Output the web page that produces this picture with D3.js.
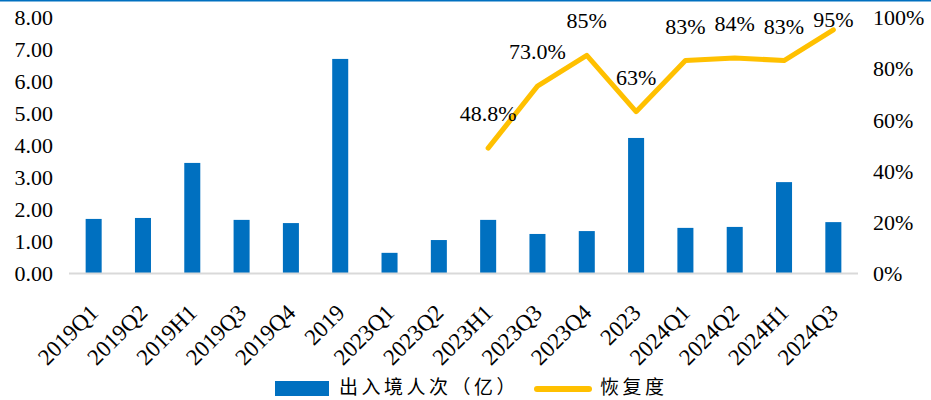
<!DOCTYPE html>
<html><head><meta charset="utf-8">
<script src="https://cdn.jsdelivr.net/npm/d3@7"></script>
<style>
body{margin:0;background:#fff;}
svg{display:block;}
</style></head>
<body>
<svg id="c" width="931" height="400"></svg>
<script>
const categories = ["2019Q1","2019Q2","2019H1","2019Q3","2019Q4","2019","2023Q1","2023Q2","2023H1","2023Q3","2023Q4","2023","2024Q1","2024Q2","2024H1","2024Q3"];
const travellers = [1.69,1.72,3.44,1.66,1.56,6.69,0.63,1.03,1.66,1.22,1.31,4.22,1.41,1.44,2.84,1.59];
const recoveryCats = ["2023H1","2023Q3","2023Q4","2023","2024Q1","2024Q2","2024H1","2024Q3"];
const recovery = [48.8,73.0,85,63,83,84,83,95];
const recoveryLabels = ["48.8%","73.0%","85%","63%","83%","84%","83%","95%"];
const leftTicks = [0,1,2,3,4,5,6,7,8];
const rightTicks = [0,20,40,60,80,100];
const seriesNames = ["出入境人次（亿）","恢复度"];

const SERIF = "'Liberation Serif','Times New Roman',serif";
const CJK = "'Noto Sans CJK SC',sans-serif";

const svg = d3.select("#c");
const m = {l:69, r:858, t:17, b:273};
const x = d3.scaleBand().domain(categories).range([m.l, m.r]).paddingInner(0.675).paddingOuter(0.3375);
const y = d3.scaleLinear().domain([0,8]).range([m.b, m.t]);
const y2 = d3.scaleLinear().domain([0,100]).range([m.b, m.t]);

// top border line
svg.append("rect").attr("x",0).attr("y",0).attr("width",931).attr("height",1.5).attr("fill","#0070C0");

// bars
svg.append("g").selectAll("rect").data(travellers).join("rect")
  .attr("x",(d,i)=>x(categories[i]))
  .attr("y",d=>y(d))
  .attr("width",x.bandwidth())
  .attr("height",d=>y(0)-y(d))
  .attr("fill","#0070C0");

// x axis line
svg.append("line").attr("x1",m.l).attr("x2",m.r).attr("y1",y(0)+0.5).attr("y2",y(0)+0.5)
  .attr("stroke","#d9d9d9").attr("stroke-width",2);

// left axis
const la = d3.axisLeft(y).tickValues(leftTicks).tickFormat(d3.format(".2f")).tickSize(0).tickPadding(0);
const gl = svg.append("g").attr("transform","translate(53,0)").call(la);
gl.attr("font-family",SERIF).attr("font-size",22);
gl.select(".domain").remove();
gl.selectAll("text").style("font-family",SERIF).attr("font-size",22).attr("fill","#000").attr("dy","0.35em");

// right axis
const ra = d3.axisRight(y2).tickValues(rightTicks).tickFormat(d=>d+"%").tickSize(0).tickPadding(0);
const gr = svg.append("g").attr("transform","translate(873,0)").call(ra);
gr.attr("font-family",SERIF).attr("font-size",22);
gr.select(".domain").remove();
gr.selectAll("text").style("font-family",SERIF).attr("font-size",22).attr("fill","#000").attr("dy","0.35em");

// x labels
const bx = d3.axisBottom(x).tickSize(0).tickPadding(0);
const gx = svg.append("g").attr("transform",`translate(0,${y(0)})`).call(bx);
gx.attr("font-family",SERIF).attr("font-size",23);
gx.select(".domain").remove();
gx.selectAll("text")
  .style("font-family",SERIF).attr("font-size",23).attr("fill","#000")
  .attr("text-anchor","end").attr("dy","0").attr("y",0).attr("x",0)
  .attr("transform","translate(6,41) rotate(-45)");

// line
const cx = c => x(c)+x.bandwidth()/2;
const line = d3.line().x((d,i)=>cx(recoveryCats[i])).y(d=>y2(d));
svg.append("path").datum(recovery).attr("d",line)
  .attr("fill","none").attr("stroke","#FFC000").attr("stroke-width",5)
  .attr("stroke-linecap","round").attr("stroke-linejoin","round");

// line labels
svg.append("g").selectAll("text").data(recovery).join("text")
  .attr("x",(d,i)=>cx(recoveryCats[i]))
  .attr("y",d=>Math.max(y2(d)-27, 27))
  .attr("text-anchor","middle").attr("font-size",22)
  .style("font-family",SERIF).attr("fill","#000")
  .text((d,i)=>recoveryLabels[i]);

// legend
const lg = svg.append("g");
lg.append("rect").attr("x",275).attr("y",381).attr("width",54).attr("height",15).attr("fill","#0070C0");
lg.append("text").attr("x",339).attr("y",394).attr("font-size",19)
  .style("font-family",CJK).attr("fill","#000").attr("letter-spacing",3.5).text(seriesNames[0]);
lg.append("line").attr("x1",537).attr("x2",589).attr("y1",389).attr("y2",389)
  .attr("stroke","#FFC000").attr("stroke-width",6).attr("stroke-linecap","round");
lg.append("text").attr("x",600).attr("y",394).attr("font-size",19)
  .style("font-family",CJK).attr("fill","#000").attr("letter-spacing",3.5).text(seriesNames[1]);
</script>
</body></html>
